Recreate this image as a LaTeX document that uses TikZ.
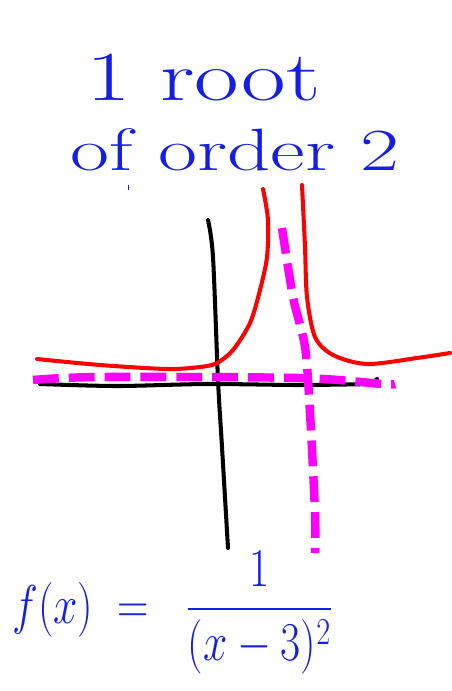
\documentclass[tikz,border=0pt]{standalone}
\usepackage{amsmath}
\usepackage{tikz}
\usetikzlibrary{calc}
\definecolor{penblue}{RGB}{20,30,230}
\definecolor{penred}{RGB}{255,0,0}
\definecolor{penmagenta}{RGB}{255,0,255}

\begin{document}
\begin{tikzpicture}[
  x=0.02cm, y=-0.02cm,
  handtext/.style={
    text=penblue, inner sep=0pt, font=\fontsize{34}{40}\selectfont
  },
  axisline/.style={
    draw=black, line width=2.3pt, line cap=round, line join=round
  },
  curve/.style={
    draw=penred, line width=2.3pt, line cap=round, line join=round
  },
  asymptote/.style={
    draw=penmagenta, line width=4.8pt,
    dash pattern=on 14.7pt off 5.7pt
  }
]
\useasboundingbox (0,0) rectangle (451,691);

% Title
\node[handtext, anchor=base west, xscale=1.38,
  font=\fontsize{40}{46}\selectfont] (title) at (86,100) {1 root};
\node[handtext, anchor=base west, xscale=1.42] (subtitle) at (70,170) {of order 2};
\fill[penblue] (127.5,185) rectangle (128.5,190);

% Axes
\draw[axisline] plot[smooth] coordinates {
  (208,220) (213,257) (218,380) (222,447) (228,548)};
\draw[axisline] plot[smooth] coordinates {
  (40,384) (117,386) (207,384) (300,385) (372,384)} -- (377,379);

% Graph of the function
\draw[curve] plot[smooth] coordinates {
  (37,359) (100,365) (167,369) (200,367) (217,363) (233,350)
  (250,323) (260,290) (267,257) (268,220) (263,189)};
\draw[curve] plot[smooth] coordinates {
  (302,185) (305,247) (307,297) (315,337) (333,355) (367,364)
  (417,358) (450,353)};

% Asymptotes
\draw[asymptote] plot[smooth] coordinates {
  (33,380) (100,377) (300,378) (383,384) (395,384)};
\draw[asymptote] plot[smooth] coordinates {
  (282,228) (293,297) (305,347) (310,413) (315,513) (315,553)};

% Formula
\node[handtext, anchor=base west, yscale=1.25,
  font=\fontsize{26}{30}\selectfont] (formula) at (12,623)
  {$f(x)\;=\;\;\dfrac{1}{(x-3)^2}$};
\end{tikzpicture}
\end{document}
